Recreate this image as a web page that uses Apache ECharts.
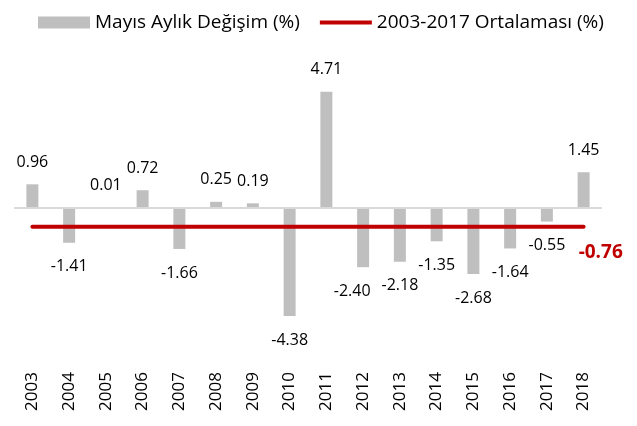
<!doctype html>
<html>
<head>
    <meta http-equiv="Content-Type" content="text/html; charset=utf-8" />
    <title>Mayıs Aylık Değişim</title>
    <script src="https://cdn.jsdelivr.net/npm/echarts@6/dist/echarts.min.js"></script>
    <style>
        html, body { margin: 0; padding: 0; background: #fff; }
        #main { width: 637px; height: 426px; }
    </style>
</head>
<body>
<div id="main"></div>
<script type="text/javascript">
    // data
    var years = ['2003', '2004', '2005', '2006', '2007', '2008', '2009', '2010',
        '2011', '2012', '2013', '2014', '2015', '2016', '2017', '2018'];
    var monthly = [0.96, -1.41, 0.01, 0.72, -1.66, 0.25, 0.19, -4.38,
        4.71, -2.40, -2.18, -1.35, -2.68, -1.64, -0.55, 1.45];
    var average = -0.76;
    var avgLine = years.map(function () { return average; });

    var barName = 'Mayıs Aylık Değişim (%)';
    var lineName = '2003-2017 Ortalaması (%)';
    var font = 'Open Sans';

    var myChart = echarts.init(document.getElementById('main'));

    // negative bars carry their labels underneath
    var barData = monthly.map(function (v, i) {
        var lbl = { position: v < 0 ? 'bottom' : 'top', distance: v < 0 ? 16 : 14 };
        if (years[i] === '2012') lbl.offset = [-11, 0]; // nudged left as in the picture
        return { value: v, label: lbl };
    });

    var option = {
        backgroundColor: '#fff',
        animation: false,
        textStyle: { fontFamily: font, color: '#000' },
        legend: {
            top: 8,
            left: 33,
            itemWidth: 52,
            itemHeight: 12,
            itemGap: 20,
            textStyle: { fontFamily: font, fontSize: 19, color: '#000' },
            data: [
                { name: barName, icon: 'rect' },
                { name: lineName, icon: 'path://M0,0M52,12M0,4H52V8H0Z' }
            ]
        },
        grid: { left: 14, right: 35, top: 60, bottom: 70 },
        xAxis: {
            type: 'category',
            data: years,
            axisLine: { show: false, onZero: false },
            axisTick: { show: false },
            axisLabel: { rotate: 90, margin: 16, fontSize: 17, color: '#000', fontFamily: font }
        },
        yAxis: {
            type: 'value',
            min: -6,
            max: 6,
            show: false
        },
        series: [{
            name: barName,
            type: 'bar',
            data: barData,
            barWidth: 12,
            itemStyle: { color: '#bfbfbf' },
            label: {
                show: true,
                fontSize: 16,
                color: '#000',
                fontFamily: font,
                formatter: function (p) { return Number(p.value).toFixed(2); }
            },
            markLine: {
                silent: true,
                symbol: 'none',
                label: { show: false },
                lineStyle: { color: '#d9d9d9', width: 2, type: 'solid' },
                data: [{ yAxis: 0 }]
            }
        }, {
            name: lineName,
            type: 'line',
            data: avgLine,
            z: 5,
            symbol: 'none',
            lineStyle: { color: '#c00000', width: 4, cap: 'round' },
            itemStyle: { color: '#c00000' },
            endLabel: {
                show: true,
                formatter: average.toFixed(2),
                color: '#c00000',
                fontWeight: 'bold',
                fontSize: 19,
                fontFamily: font,
                offset: [-13, 26]
            }
        }]
    };

    myChart.setOption(option);
</script>
</body>
</html>
